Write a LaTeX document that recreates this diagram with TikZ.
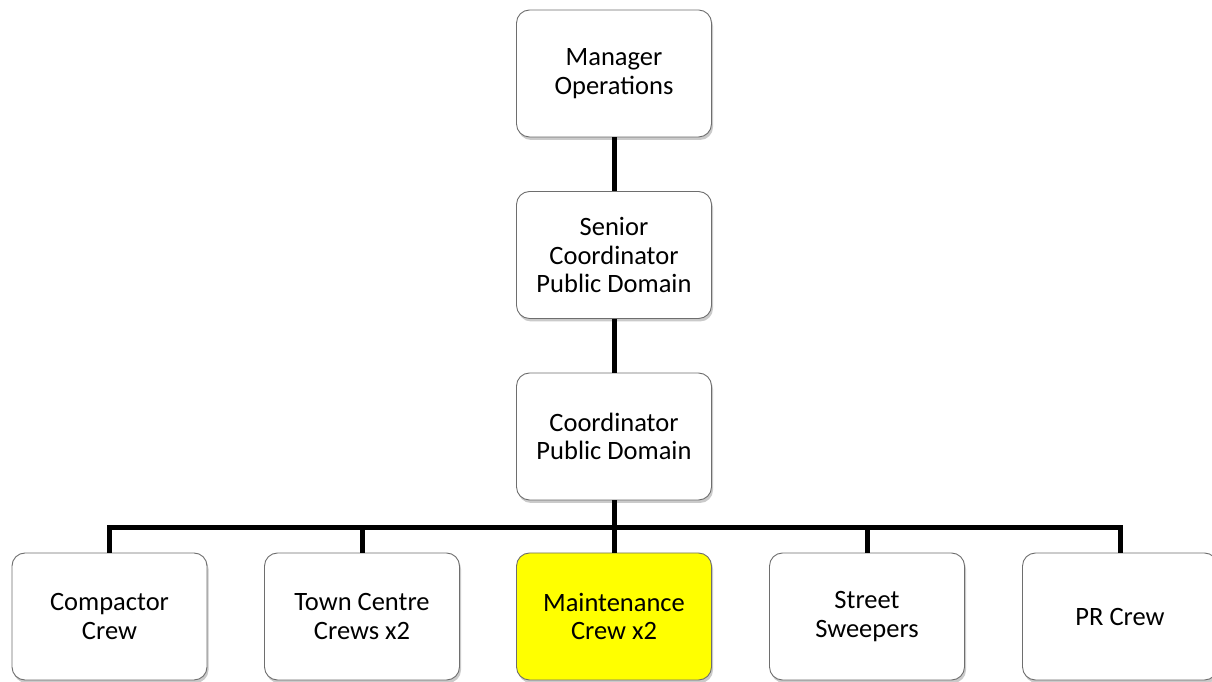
\documentclass[tikz,border=0pt]{standalone}
\usepackage{fontspec}
\setmainfont{Carlito}
\usetikzlibrary{positioning}
\usetikzlibrary{shapes,shadows,arrows}

\definecolor{boxline}{RGB}{110,110,110}
\definecolor{hilite}{RGB}{255,255,0}

\tikzset{
  orgbox/.style={draw=boxline, line width=0.9pt, fill=white, rounded corners=13pt,
    minimum width=195pt, minimum height=127pt, align=center,
    font=\fontsize{26.5}{28.5}\selectfont,
    drop shadow={shadow xshift=1.5pt, shadow yshift=-3pt, opacity=0.35, fill=black!60}},
  conn/.style={line width=5pt, black}
}

\begin{document}
\begin{tikzpicture}[x=1pt,y=1pt]
  \useasboundingbox (0,0) rectangle (1212,682);

  % management chain
  \node[orgbox] (mgr) at (614,608.5) {Manager\\Operations};
  \node[orgbox] (snr) at (614,427) {Senior\\Coordinator\\Public Domain};
  \node[orgbox] (crd) at (614,245.5) {Coordinator\\Public Domain};

  % crews
  \node[orgbox] (cmp) at (109.5,65.5) {Compactor\\Crew};
  \node[orgbox] (twn) at (362,65.5) {Town Centre\\Crews x2};
  \node[orgbox, fill=hilite] (mnt) at (614,65.5) {Maintenance\\Crew x2};
  \node[orgbox] (swp) at (867,65.5) {Street\\Sweepers};
  \node[orgbox] (prc) at (1120,65.5) {PR Crew};

  \coordinate (bus) at (614,154);

  \draw[conn] (mgr.south) -- (snr.north);
  \draw[conn] (snr.south) -- (crd.north);
  \draw[conn] (crd.south) -- (bus);
  \draw[conn] (bus) -| (cmp.north);
  \draw[conn] (bus) -| (twn.north);
  \draw[conn] (bus) -- (mnt.north);
  \draw[conn] (bus) -| (swp.north);
  \draw[conn] (bus) -| (prc.north);
\end{tikzpicture}
\end{document}
